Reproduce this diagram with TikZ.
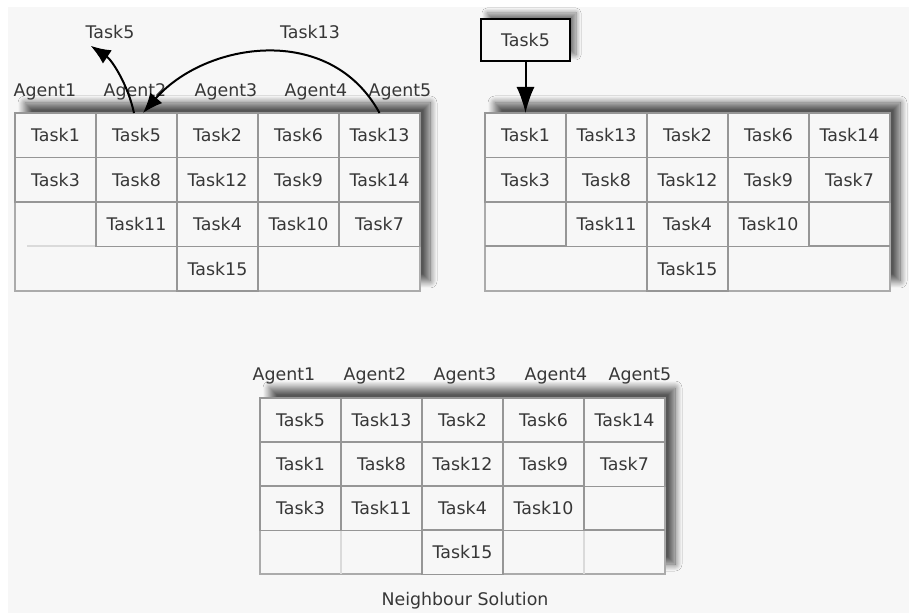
\documentclass[tikz,border=0pt]{standalone}
\usepackage{fontspec}
\setmainfont{DejaVu Sans}
\usepackage{tikz}
\usetikzlibrary{positioning,arrows.meta,shadows.blur}
\definecolor{bggray}{RGB}{247,247,247}
\definecolor{cellgray}{RGB}{150,150,150}
\definecolor{txtgray}{RGB}{55,55,55}

\begin{document}
\begin{tikzpicture}[
        x=0.5pt, y=-0.5pt,
        font=\fontsize{8.7}{10}\selectfont, text=txtgray,
        cell/.style={draw=cellgray, line width=0.9pt, fill=bggray, minimum width=40.5pt, minimum height=22.25pt, inner sep=0pt, outer sep=0pt, anchor=north west},
        frame/.style={draw=cellgray!80, line width=0.8pt, fill=bggray, blur shadow={shadow xshift=5pt, shadow yshift=5pt, shadow blur radius=3.5pt, shadow blur steps=12, shadow opacity=65}},
        selbox/.style={draw=black, line width=1.4pt, fill=bggray, minimum width=44.5pt, minimum height=21pt, blur shadow={shadow xshift=3pt, shadow yshift=3pt, shadow blur radius=2.5pt, shadow blur steps=10, shadow opacity=50}},
        move/.style={draw=black, line width=1pt, -{Latex[length=10pt, width=8pt, fill=black]}},
        faint/.style={draw=cellgray!35, line width=0.6pt}
    ]
        \useasboundingbox (0,0) rectangle (909,613);
        \fill[bggray] (8,7) rectangle (909,613);

        % current solution
        \draw[frame] (15,113) rectangle (420,291);
        \draw[faint] (27,246) -- (96,246);
        \foreach \c/\r/\txt in {1/1/Task1,1/2/Task3,
                2/1/Task5,2/2/Task8,2/3/Task11,
                3/1/Task2,3/2/Task12,3/3/Task4,3/4/Task15,
                4/1/Task6,4/2/Task9,4/3/Task10,
                5/1/Task13,5/2/Task14,5/3/Task7} {
            \node[cell] (cur-\c-\r) at ({15+81*(\c-1)},{113+44.5*(\r-1)}) {\txt};
        }
        \foreach \x/\i in {45/1,135/2,226/3,316/4,400/5} {
            \node (cur-ag\i) at (\x,92) {Agent\i};
        }
        \node (out5) at (110,32) {Task5};
        \node (out13) at (310,32) {Task13};
        \draw[move] ([xshift=-1.25pt]cur-2-1.north) .. controls (128,85) and (112,60) .. ([xshift=6pt]out5.south west);
        \draw[move] (cur-5-1.north) .. controls (330,22) and (205,42) .. ([xshift=3.25pt]cur-2-1.north);

        % intermediate solution
        \draw[frame] (485,113) rectangle (890,291);
        \draw[draw=cellgray, line width=0.9pt] (485,246) -- (566,246) (809,246) -- (890,246);
        \foreach \c/\r/\txt in {1/1/Task1,1/2/Task3,
                2/1/Task13,2/2/Task8,2/3/Task11,
                3/1/Task2,3/2/Task12,3/3/Task4,3/4/Task15,
                4/1/Task6,4/2/Task9,4/3/Task10,
                5/1/Task14,5/2/Task7} {
            \node[cell] (mid-\c-\r) at ({485+81*(\c-1)},{113+44.5*(\r-1)}) {\txt};
        }
        \node[selbox] (ins5) at (525.5,40) {Task5};
        \draw[draw=black, line width=1pt, -{Latex[length=13pt, width=9pt, fill=black]}] (ins5.south) -- (mid-1-1.north);

        % neighbour solution
        \draw[frame] (260,398) rectangle (665,574);
        \draw[draw=cellgray, line width=0.9pt] (584,530) -- (665,530);
        \draw[faint] (341,530) -- (341,574) (584,530) -- (584,574);
        \foreach \c/\r/\txt in {1/1/Task5,1/2/Task1,1/3/Task3,
                2/1/Task13,2/2/Task8,2/3/Task11,
                3/1/Task2,3/2/Task12,3/3/Task4,3/4/Task15,
                4/1/Task6,4/2/Task9,4/3/Task10,
                5/1/Task14,5/2/Task7} {
            \node[cell] (nb-\c-\r) at ({260+81*(\c-1)},{398+44*(\r-1)}) {\txt};
        }
        \foreach \x/\i in {284/1,375/2,465/3,556/4,640/5} {
            \node (nb-ag\i) at (\x,376) {Agent\i};
        }
        \node (caption) at (465,601) {Neighbour Solution};
    \end{tikzpicture}
\end{document}
